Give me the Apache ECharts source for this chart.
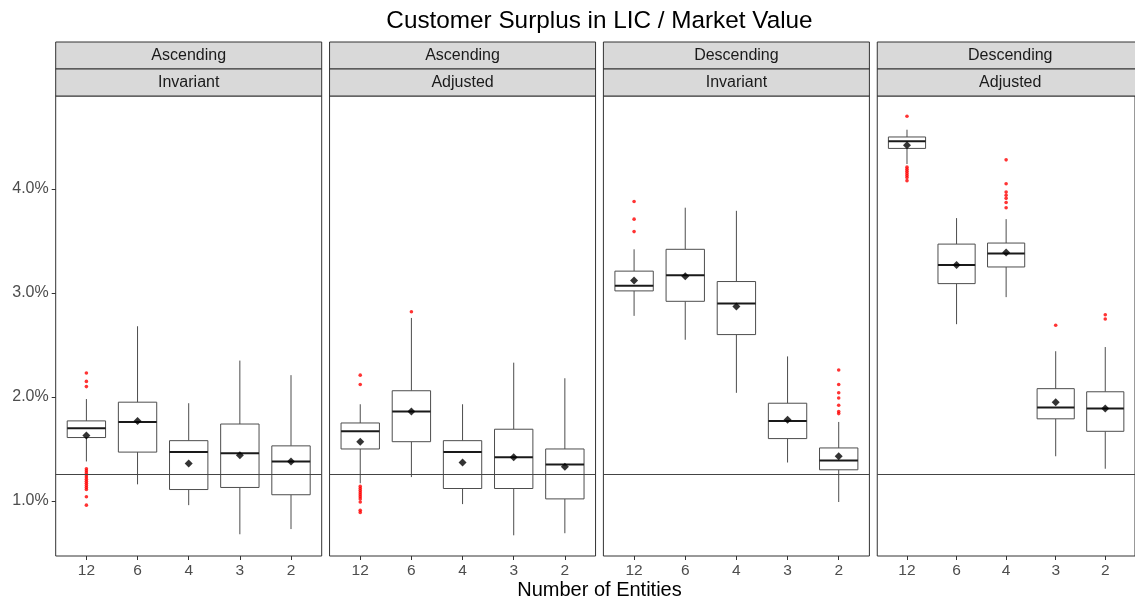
<!DOCTYPE html>
<html><head><meta charset="utf-8">
<script src="https://cdn.jsdelivr.net/npm/echarts@6/dist/echarts.min.js"></script>
<style>html,body{margin:0;padding:0;background:#fff}#c{width:1135px;height:603px}</style>
</head><body><div id="c"></div>
<script>
// ---------------- data ----------------
const titleText = 'Customer Surplus in LIC / Market Value';
const xAxisTitle = 'Number of Entities';
const categories = ['12', '6', '4', '3', '2'];
const stripTop = ['Ascending', 'Ascending', 'Descending', 'Descending'];
const stripBottom = ['Invariant', 'Adjusted', 'Invariant', 'Adjusted'];
const yTicks = [1, 2, 3, 4];
const refValue = 1.26;

// box stats per category: [lower whisker, Q1, median, Q3, upper whisker] (percent)
const boxAscInv = [[1.38, 1.61, 1.70, 1.77, 1.98], [1.16, 1.47, 1.76, 1.95, 2.68], [0.96, 1.11, 1.47, 1.58, 1.94], [0.68, 1.13, 1.46, 1.74, 2.35], [0.73, 1.06, 1.38, 1.53, 2.21]];
const boxAscAdj = [[1.17, 1.50, 1.67, 1.75, 1.93], [1.23, 1.57, 1.86, 2.06, 2.76], [0.97, 1.12, 1.47, 1.58, 1.93], [0.67, 1.12, 1.42, 1.69, 2.33], [0.69, 1.02, 1.35, 1.50, 2.18]];
const boxDesInv = [[2.78, 3.02, 3.07, 3.21, 3.42], [2.55, 2.92, 3.17, 3.42, 3.82], [2.04, 2.60, 2.90, 3.11, 3.79], [1.37, 1.60, 1.77, 1.94, 2.39], [0.99, 1.30, 1.39, 1.51, 1.76]];
const boxDesAdj = [[4.24, 4.39, 4.46, 4.50, 4.57], [2.70, 3.09, 3.27, 3.47, 3.72], [2.96, 3.25, 3.38, 3.48, 3.71], [1.43, 1.79, 1.90, 2.08, 2.44], [1.31, 1.67, 1.89, 2.05, 2.48]];

// means per category
const meanAscInv = [1.63, 1.77, 1.36, 1.44, 1.38];
const meanAscAdj = [1.57, 1.86, 1.37, 1.42, 1.33];
const meanDesInv = [3.12, 3.16, 2.87, 1.78, 1.43];
const meanDesAdj = [4.42, 3.27, 3.39, 1.95, 1.89];

// outliers per category
const outAscInv = [[2.23, 2.15, 2.10, 1.31, 1.29, 1.27, 1.25, 1.23, 1.21, 1.19, 1.17, 1.15, 1.13, 1.11, 1.04, 0.96], [], [], [], []];
const outAscAdj = [[2.21, 2.12, 1.14, 1.12, 1.10, 1.08, 1.06, 1.04, 1.02, 0.99, 0.91, 0.89], [2.82], [], [], []];
const outDesInv = [[3.88, 3.71, 3.59], [], [], [], [2.26, 2.12, 2.04, 1.99, 1.92, 1.86, 1.84]];
const outDesAdj = [[4.70, 4.21, 4.19, 4.17, 4.15, 4.13, 4.11, 4.08], [], [4.28, 4.05, 3.97, 3.94, 3.91, 3.87, 3.82], [2.69], [2.79, 2.75]];

const panelBoxes = [boxAscInv, boxAscAdj, boxDesInv, boxDesAdj];
const panelMeans = [meanAscInv, meanAscAdj, meanDesInv, meanDesAdj];
const panelOutliers = [outAscInv, outAscAdj, outDesInv, outDesAdj];

// ---------------- layout ----------------
const FONT = '"Liberation Sans", Arial, Helvetica, sans-serif';
const PANEL_LEFT = 55.7, PANEL_STEP = 273.85, PANEL_W = 266;
const PANEL_TOP = 96, PANEL_H = 460, STRIP_H = 27;
const Y_MIN = 0.471, Y_MAX = 4.894;
const BOX_COLOR = '#4d4d4d';

const chart = echarts.init(document.getElementById('c'), null, { renderer: 'canvas' });

function renderBox(params, api) {
  const x = api.value(0);
  const pMin = api.coord([x, api.value(1)]);
  const pQ1 = api.coord([x, api.value(2)]);
  const pMd = api.coord([x, api.value(3)]);
  const pQ3 = api.coord([x, api.value(4)]);
  const pMax = api.coord([x, api.value(5)]);
  const bw = api.size([1, 0])[0] * 0.75;
  const cx = pMd[0];
  return {
    type: 'group',
    children: [
      { type: 'line', shape: { x1: cx, y1: pMax[1], x2: cx, y2: pQ3[1] }, style: { stroke: BOX_COLOR, lineWidth: 1 } },
      { type: 'line', shape: { x1: cx, y1: pQ1[1], x2: cx, y2: pMin[1] }, style: { stroke: BOX_COLOR, lineWidth: 1 } },
      { type: 'rect', shape: { x: cx - bw / 2, y: pQ3[1], width: bw, height: pQ1[1] - pQ3[1] }, style: { fill: '#ffffff', stroke: BOX_COLOR, lineWidth: 1 } },
      { type: 'line', shape: { x1: cx - bw / 2, y1: pMd[1], x2: cx + bw / 2, y2: pMd[1] }, style: { stroke: '#1a1a1a', lineWidth: 2 } }
    ]
  };
}

const grids = [], xAxes = [], yAxes = [], series = [], graphics = [];
for (let p = 0; p < 4; p++) {
  const left = PANEL_LEFT + PANEL_STEP * p;
  grids.push({ left: left, top: PANEL_TOP, width: PANEL_W, height: PANEL_H, show: true, borderColor: '#333333', borderWidth: 1, backgroundColor: '#ffffff', containLabel: false });
  xAxes.push({
    gridIndex: p, type: 'value', min: -0.6, max: categories.length - 0.4, position: 'bottom',
    axisLine: { show: false, onZero: false },
    splitLine: { show: false },
    axisTick: { show: true, length: 4, lineStyle: { color: '#333333' }, customValues: categories.map((c, i) => i) },
    axisLabel: { show: true, margin: 7, color: '#4d4d4d', fontSize: 15.5, fontFamily: FONT, customValues: categories.map((c, i) => i), formatter: v => categories[Math.round(v)] }
  });
  yAxes.push({
    gridIndex: p, type: 'value', min: Y_MIN, max: Y_MAX, position: 'left',
    axisLine: { show: false, onZero: false },
    splitLine: { show: false },
    axisTick: { show: p === 0, length: 4, lineStyle: { color: '#333333' }, customValues: yTicks },
    axisLabel: { show: p === 0, margin: 7, color: '#4d4d4d', fontSize: 16, fontFamily: FONT, customValues: yTicks, formatter: v => v.toFixed(1) + '%' }
  });
  series.push({
    type: 'custom', xAxisIndex: p, yAxisIndex: p, z: 2, silent: true,
    renderItem: renderBox,
    encode: { x: 0, y: [1, 2, 3, 4, 5] },
    data: panelBoxes[p].map((b, i) => [i].concat(b))
  });
  series.push({
    type: 'line', xAxisIndex: p, yAxisIndex: p, z: 3, silent: true, showSymbol: false,
    data: [],
    markLine: {
      silent: true, symbol: 'none', animation: false,
      label: { show: false },
      lineStyle: { color: '#444444', width: 1, type: 'solid' },
      data: [{ yAxis: refValue }]
    }
  });
  const outs = [];
  panelOutliers[p].forEach((arr, i) => arr.forEach(v => outs.push([i, v])));
  series.push({
    type: 'scatter', xAxisIndex: p, yAxisIndex: p, z: 4, silent: true,
    symbol: 'circle', symbolSize: 3.6,
    itemStyle: { color: '#ff0000' },
    data: outs
  });
  series.push({
    type: 'scatter', xAxisIndex: p, yAxisIndex: p, z: 5, silent: true,
    symbol: 'diamond', symbolSize: 8,
    itemStyle: { color: '#000000' },
    data: panelMeans[p].map((m, i) => [i, m])
  });
  // strips
  const stripTexts = [stripTop[p], stripBottom[p]];
  stripTexts.forEach((t, k) => {
    const y0 = PANEL_TOP - STRIP_H * (2 - k);
    graphics.push({
      type: 'rect', silent: true, z: 10,
      shape: { x: left, y: y0, width: PANEL_W, height: STRIP_H },
      style: { fill: '#d9d9d9', stroke: '#333333', lineWidth: 1 }
    });
    graphics.push({
      type: 'text', silent: true, z: 11,
      x: left + PANEL_W / 2, y: y0 + STRIP_H / 2,
      style: { text: t, fill: '#1a1a1a', font: '16px ' + FONT, textAlign: 'center', textVerticalAlign: 'middle' }
    });
  });
}
const centerX = PANEL_LEFT + (PANEL_STEP * 3 + PANEL_W) / 2;
graphics.push({
  type: 'text', silent: true, x: centerX, y: 21,
  style: { text: titleText, fill: '#000000', font: '24.3px ' + FONT, textAlign: 'center', textVerticalAlign: 'middle' }
});
graphics.push({
  type: 'text', silent: true, x: centerX, y: 590,
  style: { text: xAxisTitle, fill: '#000000', font: '20px ' + FONT, textAlign: 'center', textVerticalAlign: 'middle' }
});

chart.setOption({
  animation: false,
  backgroundColor: '#ffffff',
  textStyle: { fontFamily: FONT },
  grid: grids,
  xAxis: xAxes,
  yAxis: yAxes,
  series: series,
  graphic: graphics
});
</script>
</body></html>
